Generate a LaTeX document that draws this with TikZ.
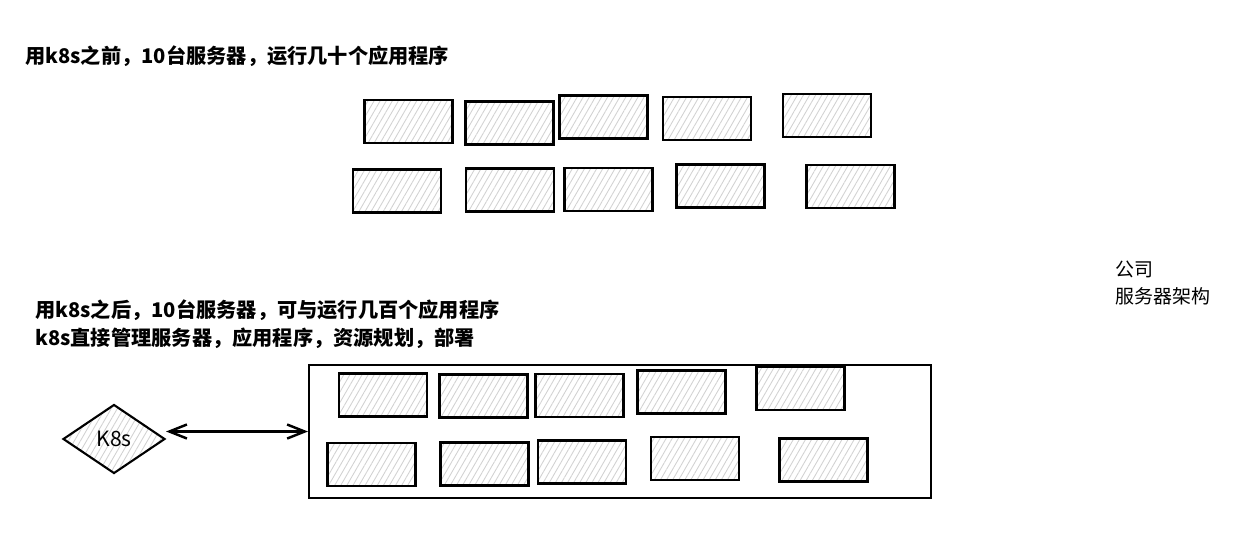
\documentclass[tikz,border=0pt]{standalone}
\usepackage{fontspec}
\newfontfamily\cjk{Noto Sans CJK SC}
\usepackage{tikz}
\usetikzlibrary{arrows.meta,positioning,shapes.geometric,patterns.meta}

\begin{document}
\begin{tikzpicture}[
    x=0.02cm, y=-0.02cm,
    >={Straight Barb[length=10pt,width=8pt]},
    hatch/.style={pattern={Lines[angle=60,distance=3pt,line width=0.5pt]},pattern color=gray!35},
    server/.style={draw,line width=1.6pt,hatch,minimum width=1.76cm,minimum height=0.86cm,inner sep=0pt},
    cluster/.style={draw,line width=1.2pt,minimum width=12.44cm,minimum height=2.66cm,inner sep=0pt},
    master/.style={draw,line width=1.2pt,shape=diamond,hatch,aspect=1.48,minimum width=2.04cm,minimum height=1.38cm,inner sep=0pt,font=\cjk\fontsize{12}{14}\selectfont},
    heading/.style={anchor=west,inner sep=0pt,align=left,font=\cjk\bfseries\fontsize{11.5}{15.9}\selectfont},
    note/.style={anchor=west,inner sep=0pt,align=left,font=\cjk\fontsize{10.8}{15.9}\selectfont},
    link/.style={draw,line width=1.4pt,<->}
]

\useasboundingbox (0,0) rectangle (1253,538);

% ===== Before k8s =====
\node[heading] (before) at (25,56)
    {用k8s之前，10台服务器，运行几十个应用程序};

% Ten servers, two rows
\foreach \x/\y [count=\i] in {408.5/121.5, 509.5/123, 603.5/117, 707/118.5, 827/115.5,
                              397/191, 510/190, 608.5/189.5, 720.5/186, 850.5/186.5}
    \node[server] (old\i) at (\x,\y) {};

% ===== After k8s =====
\node[heading] (after) at (35,324)
    {用k8s之后，10台服务器，可与运行几百个应用程序\\
     k8s直接管理服务器，应用程序，资源规划，部署};

% Company label
\node[note] (company) at (1115,283) {公司\\服务器架构};

% Cluster frame
\node[cluster] (cluster) at (620,431.5) {};

% Servers inside the cluster
\foreach \x/\y [count=\i] in {383/395, 483.5/396, 579.5/395.5, 681.5/392, 800.5/388.5,
                              371.5/464.5, 484.5/464, 582/462, 695/458.5, 823.5/460}
    \node[server] (new\i) at (\x,\y) {};

% K8s master
\node[master] (k8s) at (114,439) {K8s};

% Management link
\draw[link] (k8s.east |- cluster.west) -- (cluster.west);

\end{tikzpicture}
\end{document}
